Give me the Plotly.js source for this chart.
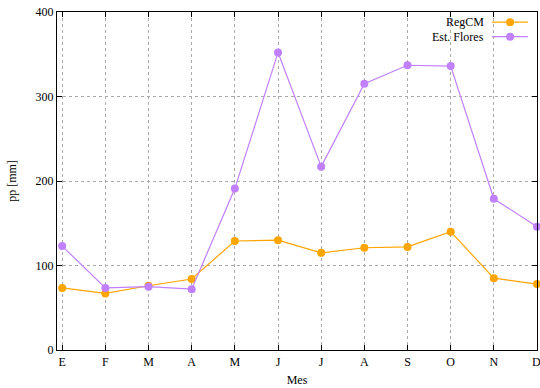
<!DOCTYPE html>
<html><head><meta charset="utf-8">
<script src="https://cdn.plot.ly/plotly-3.0.1.min.js"></script>
<style>html,body{margin:0;padding:0;background:#fff;}#c{width:540px;height:388px;}</style>
</head><body><div id="c"></div>
<script>
const months = [1,2,3,4,5,6,7,8,9,10,11,12];
const tickLabels = ["E","F","M","A","M","J","J","A","S","O","N","D"];
const regcm = [73.5, 67, 76, 84, 129, 130, 115, 121, 122, 140, 85, 78];
const flores = [123, 73.5, 75, 72, 191, 352, 217, 315, 337, 336, 179, 146];
const seriesNames = ["RegCM", "Est. Flores"];
const colors = ["#ffa500", "#c080ff"];

const font = {family: "Liberation Serif, Times New Roman, serif", size: 12, color: "#000"};

const traces = [regcm, flores].map((y, i) => ({
  x: months, y: y, type: "scatter", mode: "lines+markers", name: seriesNames[i],
  line: {color: colors[i], width: 1.2},
  marker: {color: colors[i], size: 8, symbol: "circle"},
  showlegend: false, cliponaxis: false
}));

// legend drawn gnuplot-style (text left, sample right)
const annotations = [];
const shapes = [];
seriesNames.forEach((n, i) => {
  const yp = 0.970 - i * 0.043;
  annotations.push({xref: "paper", yref: "paper", x: 0.893, y: yp, text: n, showarrow: false,
    xanchor: "right", yanchor: "middle", font: font});
  shapes.push({type: "line", xref: "paper", yref: "paper", x0: 0.906, x1: 0.981, y0: yp, y1: yp,
    line: {color: colors[i], width: 1.2}});
  shapes.push({type: "circle", xref: "paper", yref: "paper", xsizemode: "pixel", ysizemode: "pixel",
    xanchor: 0.944, yanchor: yp, x0: -4, x1: 4, y0: -4, y1: 4,
    fillcolor: colors[i], line: {color: colors[i], width: 0}});
});

// last tick label sits at the right edge; keep it inside the page
annotations.push({xref: "x", yref: "paper", x: months[11], y: 0, yshift: -12, xshift: -1, text: tickLabels[11],
  showarrow: false, xanchor: "center", yanchor: "middle", font: font});

const axisCommon = {
  showline: true, mirror: "allticks", linecolor: "#000", linewidth: 1.2,
  ticks: "inside", ticklen: 5, tickcolor: "#000", tickwidth: 1,
  showgrid: true, gridcolor: "#aaa", griddash: "dot", gridwidth: 1,
  zeroline: false, tickfont: font
};

const layout = {
  width: 540, height: 388,
  margin: {l: 57, r: 3, t: 12, b: 38},
  paper_bgcolor: "#fff", plot_bgcolor: "#fff",
  font: font,
  xaxis: Object.assign({}, axisCommon, {
    range: [0.88, 12], tickmode: "array", tickvals: months, ticktext: tickLabels.slice(0, 11).concat([""]),
    title: {text: "Mes", font: font, standoff: 8}
  }),
  yaxis: Object.assign({}, axisCommon, {
    range: [0, 400], tickmode: "array", tickvals: [0,100,200,300,400],
    title: {text: "pp [mm]", font: font, standoff: 16}
  }),
  annotations: annotations, shapes: shapes
};

Plotly.newPlot("c", traces, layout, {displayModeBar: false, staticPlot: true});
</script></body></html>
